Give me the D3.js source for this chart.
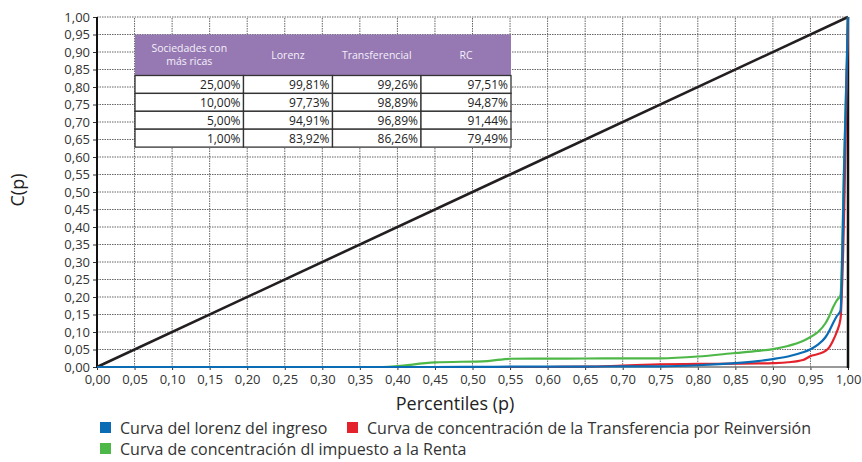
<!DOCTYPE html>
<html>
<head>
<meta charset="utf-8">
<script src="https://cdn.jsdelivr.net/npm/d3@7"></script>
<style>
  html, body { margin: 0; padding: 0; background: #fff; }
  svg { display: block; }
  text { font-family: "Open Sans", sans-serif; }
</style>
</head>
<body>
<svg id="chart" width="862" height="462"></svg>
<script>
// Percentile grid shared by the three curves
const percentiles = [0, 0.30, 0.38, 0.45, 0.52, 0.55, 0.60, 0.65, 0.70, 0.75, 0.80, 0.85, 0.88, 0.90, 0.92, 0.94, 0.95, 0.96, 0.97, 0.975, 0.98, 0.985, 0.99, 0.995, 1];

// Curva de Lorenz del ingreso
const lorenz = [0, 0, 0, 0, 0.0005, 0.0008, 0.001, 0.0013, 0.0016, 0.0019, 0.005, 0.011, 0.017, 0.0227, 0.030, 0.042, 0.0509, 0.064, 0.085, 0.103, 0.125, 0.145, 0.1608, 0.58, 1];
// Curva de concentración de la Transferencia por Reinversión
const transferencia = [0, 0, 0, 0, 0, 0, 0, 0.0008, 0.004, 0.0074, 0.0088, 0.0095, 0.0102, 0.0111, 0.0135, 0.020, 0.0311, 0.037, 0.046, 0.056, 0.075, 0.10, 0.1374, 0.45, 1];
// Curva de concentración del impuesto a la Renta
const renta = [0, 0, 0, 0.013, 0.017, 0.0235, 0.024, 0.0243, 0.0246, 0.0249, 0.030, 0.040, 0.046, 0.0513, 0.060, 0.074, 0.0856, 0.100, 0.125, 0.145, 0.170, 0.190, 0.2051, 0.60, 1];

const legendNames = ["Curva del lorenz del ingreso", "Curva de concentración de la Transferencia por Reinversión", "Curva de concentración dl impuesto a la Renta"];
const seriesColors = ["#0a6cb5", "#e3222b", "#4db848"];

// Inset table
const tableHeader = ["Sociedades con\nmás ricas", "Lorenz", "Transferencial", "RC"];
const tableShares = ["25,00%", "10,00%", "5,00%", "1,00%"];
const tableLorenz = ["99,81%", "97,73%", "94,91%", "83,92%"];
const tableTransf = ["99,26%", "98,89%", "96,89%", "86,26%"];
const tableRC = ["97,51%", "94,87%", "91,44%", "79,49%"];

const ticks = d3.range(0, 21).map(i => i / 20);
const fmt = v => d3.format(".2f")(v).replace(".", ",");

const svg = d3.select("#chart");
const plotLeft = 97, plotRight = 848, plotTop = 17, plotBottom = 367;
const x = d3.scaleLinear().domain([0, 1]).range([plotLeft, plotRight]);
const y = d3.scaleLinear().domain([0, 1]).range([plotBottom, plotTop]);

// dotted grid
const grid = svg.append("g");
grid.selectAll("line.gx").data(ticks.slice(1)).join("line")
  .attr("x1", d => x(d)).attr("x2", d => x(d)).attr("y1", y(0)).attr("y2", y(1))
  .attr("stroke", "#666").attr("stroke-width", 1).attr("stroke-dasharray", "1.5,1");
grid.selectAll("line.gy").data(ticks.slice(1)).join("line")
  .attr("x1", x(0)).attr("x2", x(1)).attr("y1", d => y(d)).attr("y2", d => y(d))
  .attr("stroke", "#666").attr("stroke-width", 1).attr("stroke-dasharray", "1.5,1");

// axes
const yAxis = svg.append("g").attr("transform", `translate(${plotLeft},0)`)
  .call(d3.axisLeft(y).tickValues(ticks).tickFormat(fmt).tickSize(4).tickPadding(3));
const xAxis = svg.append("g").attr("transform", `translate(0,${plotBottom})`)
  .call(d3.axisBottom(x).tickValues(ticks).tickFormat(fmt).tickSize(3).tickPadding(5));
[yAxis, xAxis].forEach(a => {
  a.select(".domain").remove();
  a.selectAll("text").attr("font-size", 13).attr("fill", "#333").attr("font-family", "'Open Sans', sans-serif");
  a.selectAll("line").attr("stroke", "#333");
});
svg.append("line").attr("x1", x(0)).attr("x2", x(1)).attr("y1", y(0)).attr("y2", y(0))
  .attr("stroke", "#777").attr("stroke-width", 1.5);
svg.append("line").attr("x1", x(0)).attr("x2", x(0)).attr("y1", y(0) + 1).attr("y2", y(1))
  .attr("stroke", "#111").attr("stroke-width", 2);
svg.append("line").attr("x1", x(1)).attr("x2", x(1)).attr("y1", y(0) + 1).attr("y2", y(1))
  .attr("stroke", "#111").attr("stroke-width", 2.5);

// equality line
svg.append("line").attr("x1", x(0)).attr("y1", y(0)).attr("x2", x(1)).attr("y2", y(1))
  .attr("stroke", "#231f20").attr("stroke-width", 2.6);

// concentration curves
const line = d3.line().x(d => x(d[0])).y(d => y(d[1])).curve(d3.curveMonotoneX);
const curves = [renta, transferencia, lorenz];
const curveColors = [seriesColors[2], seriesColors[1], seriesColors[0]];
curves.forEach((vals, i) => {
  svg.append("path").datum(percentiles.map((p, j) => [p, vals[j]]))
    .attr("d", line).attr("fill", "none").attr("stroke", curveColors[i])
    .attr("stroke-width", 2.2).attr("stroke-linejoin", "round");
});

// inset table
const tbl = svg.append("g");
const colX = [135, 243.5, 332.5, 421, 511];
const headTop = y(0.95), headBottom = 75.5, rowH = 17.9;
tbl.append("rect").attr("x", colX[0]).attr("y", headTop).attr("width", colX[4] - colX[0]).attr("height", headBottom - headTop)
  .attr("fill", "#9679b2");
tableHeader.forEach((h, i) => {
  const lines = h.split("\n");
  const cx = (colX[i] + colX[i + 1]) / 2;
  const t = tbl.append("text").attr("x", cx).attr("text-anchor", "middle")
    .attr("font-size", 10.5).attr("fill", "#f4effa");
  lines.forEach((ln, k) => {
    t.append("tspan").attr("x", cx)
      .attr("y", (headTop + headBottom) / 2 + 3.5 + (k - (lines.length - 1) / 2) * 12.5)
      .text(ln);
  });
});
const rows = tableShares.map((s, i) => [s, tableLorenz[i], tableTransf[i], tableRC[i]]);
rows.forEach((r, ri) => {
  const ry = headBottom + ri * rowH;
  r.forEach((v, ci) => {
    tbl.append("rect").attr("x", colX[ci]).attr("y", ry).attr("width", colX[ci + 1] - colX[ci]).attr("height", rowH)
      .attr("fill", "#fff").attr("stroke", "#333").attr("stroke-width", 1.3);
    tbl.append("text").attr("x", colX[ci + 1] - 3).attr("y", ry + rowH - 4.5).attr("text-anchor", "end")
      .attr("font-size", 12).attr("fill", "#222").text(v);
  });
});

// axis titles
svg.append("text").attr("transform", `translate(24,190) rotate(-90)`).attr("text-anchor", "middle")
  .attr("font-size", 18).attr("fill", "#222").text("C(p)");
svg.append("text").attr("x", 455).attr("y", 410).attr("text-anchor", "middle")
  .attr("font-size", 18).attr("fill", "#222").text("Percentiles (p)");

// legend
const legendPos = [[100, 429], [347, 429], [100, 450]];
legendNames.forEach((n, i) => {
  const [lx, ly] = legendPos[i];
  svg.append("rect").attr("x", lx).attr("y", ly - 7).attr("width", 11).attr("height", 11).attr("fill", seriesColors[i]);
  svg.append("text").attr("x", lx + 20).attr("y", ly + 5).attr("font-size", 16).attr("fill", "#333").text(n);
});
</script>
</body>
</html>
